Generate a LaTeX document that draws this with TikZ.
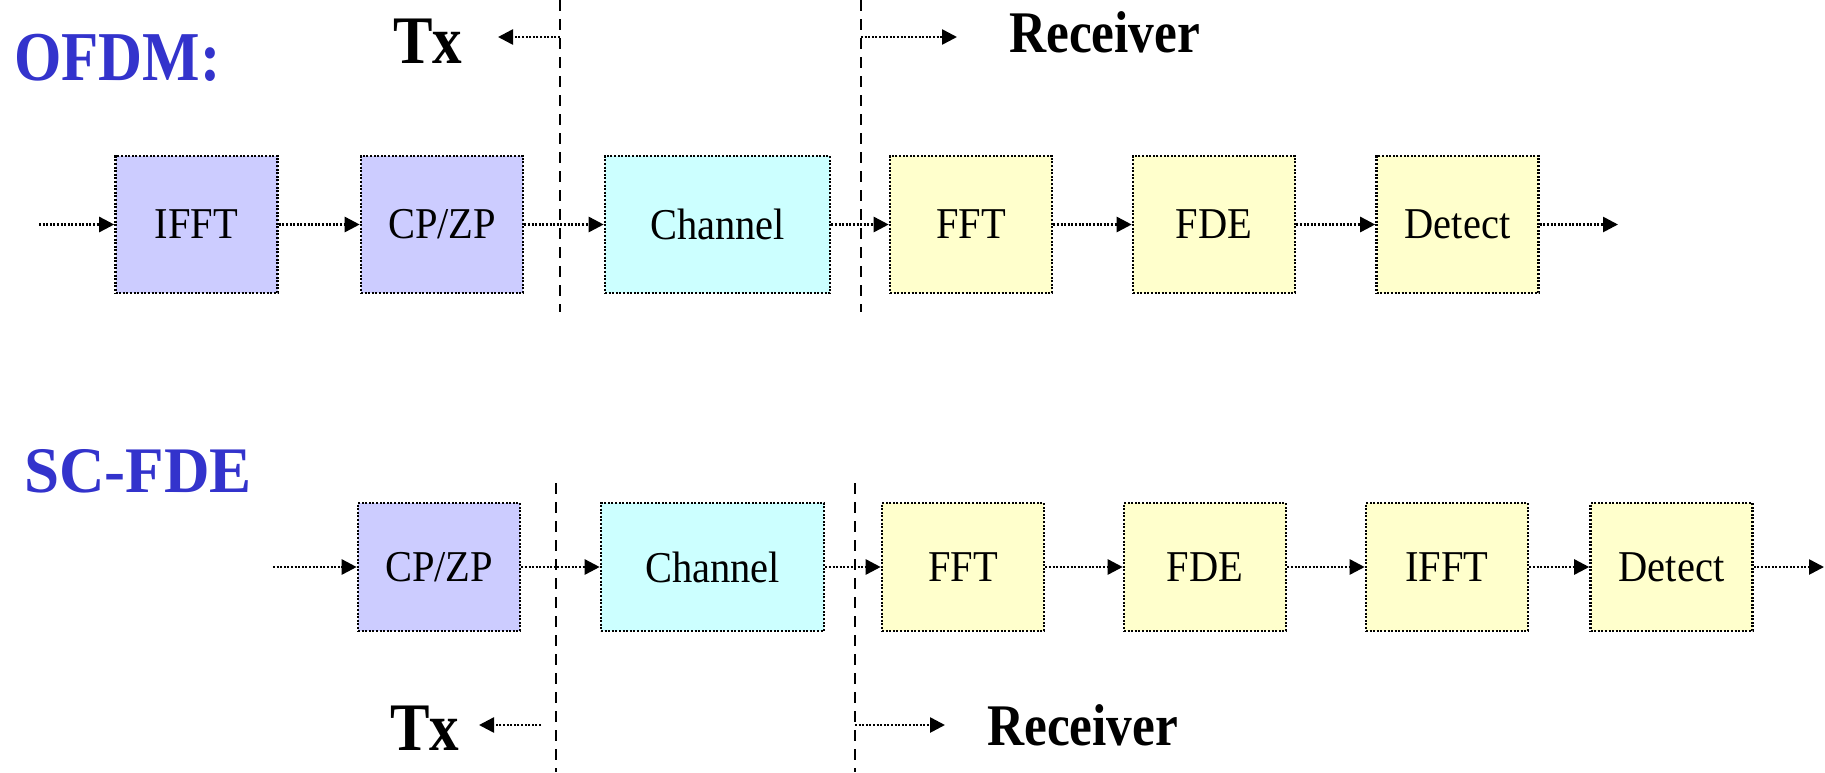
\documentclass[tikz,border=0pt]{standalone}
\usepackage{fontspec}
\setmainfont{Liberation Serif}
\newfontfamily\lblfont[FakeStretch=0.92]{Liberation Serif}
\newfontfamily\ttlfont[FakeStretch=0.87]{Liberation Serif}
\newfontfamily\scfont[FakeStretch=0.97]{Liberation Serif}
\usetikzlibrary{arrows.meta}
\definecolor{lav}{RGB}{204,204,255}
\definecolor{cyn}{RGB}{204,255,255}
\definecolor{ylw}{RGB}{255,255,204}
\definecolor{ttlblue}{RGB}{51,51,204}
\begin{document}
\begin{tikzpicture}[x=1pt,y=-1pt,
  blk/.style={draw=black, line width=2.6pt, dash pattern=on 2pt off 1.6pt, minimum width=162pt, inner sep=0pt, font=\lblfont\fontsize{44}{50}\selectfont},
  rowA/.style={blk, minimum height=137pt},
  rowB/.style={blk, minimum height=128pt},
  flow/.style={line width=2.6pt, dash pattern=on 2pt off 1.6pt, -{Triangle[length=15pt,width=15pt]}},
  sep/.style={line width=2.2pt, dash pattern=on 11pt off 8pt},
  ttl/.style={anchor=base west, inner sep=0pt, font=\ttlfont\bfseries\fontsize{68}{70}\selectfont},
  rcv/.style={anchor=base west, inner sep=0pt, font=\ttlfont\bfseries\fontsize{59}{62}\selectfont},
]
\useasboundingbox (0,0) rectangle (1825,772);

% ---------- OFDM ----------
\node[anchor=base west, inner sep=0pt, text=ttlblue, font=\ttlfont\bfseries\fontsize{70}{72}\selectfont] (ofdm) at (14,80) {OFDM:};

\coordinate (d1t) at (560,0);   \coordinate (d1b) at (560,312);
\coordinate (d2t) at (861,0);   \coordinate (d2b) at (861,312);
\draw[sep] (d1t) -- (d1b);
\draw[sep] (d2t) -- (d2b);

\node[ttl] (tx1) at (393,63) {Tx};
\node[rcv] (rx1) at (1009,52) {Receiver};
\coordinate (tx1s) at (560,37); \coordinate (tx1e) at (498,37);
\coordinate (rx1s) at (861,37); \coordinate (rx1e) at (957,37);
\draw[flow] (tx1s) -- (tx1e);
\draw[flow] (rx1s) -- (rx1e);

\node[rowA, fill=lav] (a1) at (196.5,224.5) {IFFT};
\node[rowA, fill=lav] (a2) at (442,224.5) {CP/ZP};
\node[rowA, fill=cyn, minimum width=225pt] (a3) at (717.5,224.5) {Channel};
\node[rowA, fill=ylw] (a4) at (971,224.5) {FFT};
\node[rowA, fill=ylw] (a5) at (1214,224.5) {FDE};
\node[rowA, fill=ylw] (a6) at (1457.5,224.5) {Detect};
\coordinate (ain) at (39,224.5);
\coordinate (aout) at (1618,224.5);
\draw[flow] (ain) -- (a1);
\draw[flow] (a1) -- (a2);
\draw[flow] (a2) -- (a3);
\draw[flow] (a3) -- (a4);
\draw[flow] (a4) -- (a5);
\draw[flow] (a5) -- (a6);
\draw[flow] (a6) -- (aout);

% ---------- SC-FDE ----------
\node[anchor=base west, inner sep=0pt, text=ttlblue, font=\scfont\bfseries\fontsize{65}{67}\selectfont] (scfde) at (24,492) {SC-FDE};

\coordinate (e1t) at (556,483);   \coordinate (e1b) at (556,772);
\coordinate (e2t) at (855,483);   \coordinate (e2b) at (855,772);
\draw[sep] (e1t) -- (e1b);
\draw[sep] (e2t) -- (e2b);

\node[ttl] (tx2) at (390,750) {Tx};
\node[rcv] (rx2) at (987,745) {Receiver};
\coordinate (tx2s) at (541,725); \coordinate (tx2e) at (479,725);
\coordinate (rx2s) at (855,725); \coordinate (rx2e) at (945,725);
\draw[flow] (tx2s) -- (tx2e);
\draw[flow] (rx2s) -- (rx2e);

\node[rowB, fill=lav] (b1) at (439,567) {CP/ZP};
\node[rowB, fill=cyn, minimum width=223pt] (b2) at (712.5,567) {Channel};
\node[rowB, fill=ylw] (b3) at (963,567) {FFT};
\node[rowB, fill=ylw] (b4) at (1205,567) {FDE};
\node[rowB, fill=ylw] (b5) at (1447,567) {IFFT};
\node[rowB, fill=ylw] (b6) at (1671.5,567) {Detect};
\coordinate (bin) at (273,567);
\coordinate (bout) at (1824,567);
\draw[flow] (bin) -- (b1);
\draw[flow] (b1) -- (b2);
\draw[flow] (b2) -- (b3);
\draw[flow] (b3) -- (b4);
\draw[flow] (b4) -- (b5);
\draw[flow] (b5) -- (b6);
\draw[flow] (b6) -- (bout);
\end{tikzpicture}
\end{document}
